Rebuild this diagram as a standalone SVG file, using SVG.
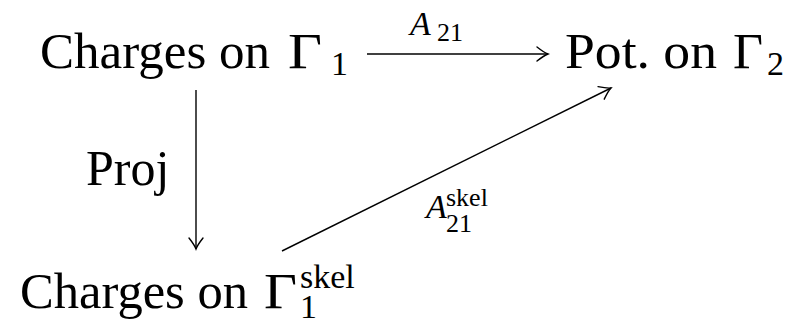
<svg xmlns="http://www.w3.org/2000/svg" width="802" height="324" viewBox="0 0 802 324">
<style>
text{font-family:'Liberation Serif','DejaVu Serif',serif;fill:#000}
.big{font-size:50px}
.sm{font-size:34px}
.xs{font-size:26px}
.it{font-style:italic}
.c{fill:none;stroke:#000;stroke-width:1.4}
</style>
<defs>
<marker id="ah" markerUnits="userSpaceOnUse" viewBox="-14 -8 16 16" refX="0" refY="0" markerWidth="16" markerHeight="16" orient="auto">
<path d="M-11,-7 Q-4,-1.5 0,0 Q-4,1.5 -11,7" fill="none" stroke="#000" stroke-width="1.4" stroke-linecap="round"/>
</marker>
</defs>
<rect width="802" height="324" fill="#fff"/>
<g id="n1">
<text class="big" x="40" y="68" textLength="230" lengthAdjust="spacingAndGlyphs">Charges on</text>
<text class="big" x="288" y="68" textLength="34" lengthAdjust="spacingAndGlyphs">Γ</text>
<text class="sm" x="331" y="75">1</text>
</g>
<g id="n2">
<text class="big" x="565" y="68" textLength="152" lengthAdjust="spacingAndGlyphs">Pot. on</text>
<text class="big" x="733" y="68" textLength="30" lengthAdjust="spacingAndGlyphs">Γ</text>
<text class="sm" x="767" y="75">2</text>
</g>
<g id="n3">
<text class="big" x="20" y="308" textLength="228" lengthAdjust="spacingAndGlyphs">Charges on</text>
<text class="big" x="264" y="308" textLength="33" lengthAdjust="spacingAndGlyphs">Γ</text>
<text class="sm" x="300" y="288">skel</text>
<text class="sm" x="300" y="318">1</text>
</g>
<g id="connectors">
<line class="c" x1="367" y1="54" x2="548" y2="54" marker-end="url(#ah)"/>
<line class="c" x1="196" y1="90" x2="196" y2="249" marker-end="url(#ah)"/>
<line class="c" x1="282" y1="251" x2="611" y2="88" marker-end="url(#ah)"/>
<g id="labels">
<text class="sm it" x="410" y="35">A</text>
<text class="xs" x="437" y="41">21</text>
<text class="big" x="86" y="185">Proj</text>
<text class="sm it" x="426" y="218">A</text>
<text class="xs" x="446" y="206">skel</text>
<text class="xs" x="446" y="232">21</text>
</g>
</g>
</svg>
